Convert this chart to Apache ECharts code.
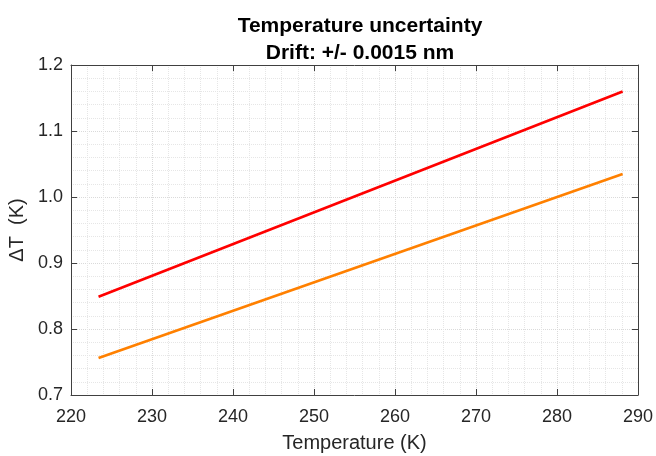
<!DOCTYPE html>
<html>
<head>
<meta charset="utf-8">
<script src="https://cdn.jsdelivr.net/npm/echarts@6/dist/echarts.min.js"></script>
<style>
  html, body { margin: 0; padding: 0; background: #fff; }
  #chart { width: 656px; height: 456px; }
</style>
</head>
<body>
<div id="chart"></div>
<script>
// values
const temperature = [223.4, 288.1];
const deltaHigh = [0.849, 1.160];   // red
const deltaLow = [0.756, 1.035];    // orange

const xTicks = { min: 220, max: 290, step: 10 };
const yTicks = { min: 0.7, max: 1.2, step: 0.1 };

const FONT = '"Liberation Sans", Arial, Helvetica, sans-serif';
const AXIS_COLOR = '#404040';

function pairs(xs, ys) {
    return xs.map((x, i) => [x, ys[i]]);
}

const boxAxis = {
    show: true,
    axisLine: { show: true, lineStyle: { color: AXIS_COLOR, width: 1 } },
    axisTick: { show: true, inside: true, length: 6, lineStyle: { color: AXIS_COLOR } },
    axisLabel: { show: false },
    splitLine: { show: false }
};

const chart = echarts.init(document.getElementById('chart'));
chart.setOption({
    animation: false,
    backgroundColor: '#ffffff',
    title: {
        text: 'Temperature uncertainty\nDrift: +/- 0.0015 nm',
        left: 355,
        textAlign: 'center',
        top: 8,
        textStyle: { fontFamily: FONT, fontSize: 21, fontWeight: 'bold', color: '#000', lineHeight: 27 }
    },
    grid: { left: 71, right: 18, top: 65, bottom: 61, outerBoundsMode: 'none' },
    xAxis: [{
        type: 'value',
        min: xTicks.min, max: xTicks.max, interval: xTicks.step,
        name: 'Temperature (K)',
        nameLocation: 'middle',
        nameGap: 38,
        nameTextStyle: { fontFamily: FONT, fontSize: 20, color: '#262626' },
        axisLine: { show: true, lineStyle: { color: AXIS_COLOR, width: 1 } },
        axisTick: { show: true, inside: true, length: 6, lineStyle: { color: AXIS_COLOR } },
        axisLabel: { fontFamily: FONT, fontSize: 18, color: '#262626', margin: 13 },
        splitLine: { show: true, lineStyle: { color: '#dadada', type: 'dotted', width: 1 } },
        minorTick: { show: false, splitNumber: 5 },
        minorSplitLine: { show: true, lineStyle: { color: '#e6e6e6', type: 'dotted', width: 1 } }
    }, Object.assign({
        type: 'value', position: 'top',
        min: xTicks.min, max: xTicks.max, interval: xTicks.step
    }, boxAxis)],
    yAxis: [{
        type: 'value',
        min: yTicks.min, max: yTicks.max, interval: yTicks.step,
        name: 'ΔT  (K)',
        nameLocation: 'middle',
        nameRotate: 90,
        nameGap: 40,
        nameTextStyle: { fontFamily: FONT, fontSize: 20, color: '#262626' },
        axisLine: { show: true, lineStyle: { color: AXIS_COLOR, width: 1 } },
        axisTick: { show: true, inside: true, length: 6, lineStyle: { color: AXIS_COLOR } },
        axisLabel: {
            fontFamily: FONT, fontSize: 18, color: '#262626', margin: 8,
            formatter: v => v.toFixed(1)
        },
        splitLine: { show: true, lineStyle: { color: '#dadada', type: 'dotted', width: 1 } },
        minorTick: { show: false, splitNumber: 5 },
        minorSplitLine: { show: true, lineStyle: { color: '#e6e6e6', type: 'dotted', width: 1 } }
    }, Object.assign({
        type: 'value', position: 'right',
        min: yTicks.min, max: yTicks.max, interval: yTicks.step
    }, boxAxis)],
    series: [
        {
            type: 'line', data: pairs(temperature, deltaHigh),
            showSymbol: false, lineStyle: { color: '#ff0000', width: 2.7 }
        },
        {
            type: 'line', data: pairs(temperature, deltaLow),
            showSymbol: false, lineStyle: { color: '#ff8000', width: 2.7 }
        }
    ]
});
</script>
</body>
</html>
